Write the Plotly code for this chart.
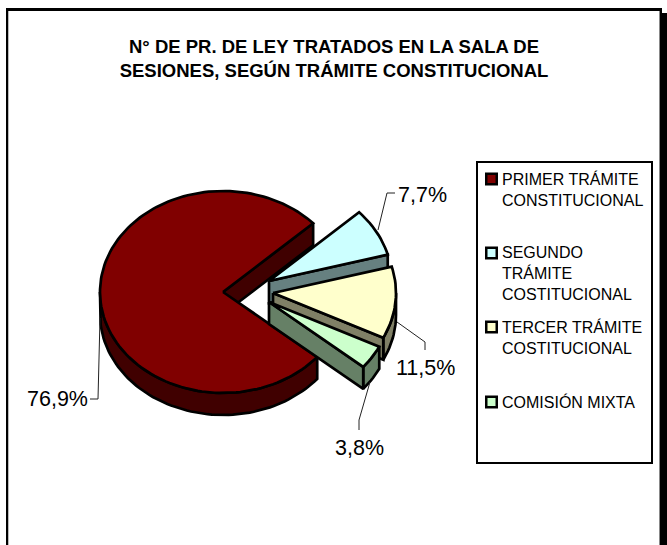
import numpy as np
import plotly.graph_objects as go

# ---- data ----
categories = ["PRIMER TRÁMITE<br>CONSTITUCIONAL",
              "SEGUNDO<br>TRÁMITE<br>COSTITUCIONAL",
              "TERCER TRÁMITE<br>COSTITUCIONAL",
              "COMISIÓN MIXTA"]
values = [76.9, 7.7, 11.5, 3.8]
title_text = "N° DE PR. DE LEY TRATADOS EN LA SALA DE<br>SESIONES, SEGÚN TRÁMITE CONSTITUCIONAL"

# ---- style and layout ----
W, H = 667, 545
face_colors = ["#800000", "#CCFFFF", "#FFFFCC", "#CCFFCC"]
wall_colors = ["#400000", "#668080", "#808066", "#668066"]
explode = [(0, 0), (46, -11), (50, 1), (46, 10)]
CX, CY, RX, RY, DEPTH = 223, 292, 123, 101, 22
START_ANGLE = -40.0   # math degrees, slices run clockwise
INK = "#000000"
FONT = "Liberation Sans"

fig = go.Figure()


def pt(a, off, drop=0):
    r = np.radians(a)
    return CX + off[0] + RX * np.cos(r), CY + off[1] - RY * np.sin(r) + drop


def arc(a0, a1, off, drop=0):
    n = max(2, int(abs(a1 - a0) / 2) + 2)
    ang = np.linspace(a0, a1, n)
    return [pt(a, off, drop) for a in ang]


def poly(points, color, name):
    xs = [p[0] for p in points] + [points[0][0]]
    ys = [p[1] for p in points] + [points[0][1]]
    fig.add_trace(go.Scatter(x=xs, y=ys, mode="lines", fill="toself", fillcolor=color,
                             line=dict(color=INK, width=2.7), name=name.replace("<br>", " "),
                             showlegend=False, hoverinfo="name"))


# angular spans from the values
total = sum(values)
spans = []
a = START_ANGLE
for v in values:
    b = a - v / total * 360
    spans.append((a, b))
    a = b

# draw slices back to front: big slice first, then the pulled ones from the top down
for i, (a0, a1) in enumerate(spans):
    off = explode[i]
    name = categories[i]
    if i == 0:
        # visible outer wall: lower half only
        top = arc(a0, -180, off)
        bot = arc(-180, a0, off, DEPTH)
        poly(top + bot, wall_colors[i], name)
        # cut wall at the far end of the slice
        end = a1 + 360
        c = (CX + off[0], CY + off[1])
        p = pt(end, off)
        poly([c, p, (p[0], p[1] + DEPTH), (c[0], c[1] + DEPTH)], wall_colors[i], name)
        poly([c] + arc(a0, a1, off), face_colors[i], name)
    else:
        s, e = a0 + 360, a1 + 360
        # outer wall where the rim faces the viewer
        if e < 0:
            rs = min(s, 0)
            top = arc(rs, e, off)
            bot = arc(e, rs, off, DEPTH)
            poly(top + bot, wall_colors[i], name)
        # cut wall along the clockwise edge
        c = (CX + off[0], CY + off[1])
        p = pt(e, off)
        poly([c, p, (p[0], p[1] + DEPTH), (c[0], c[1] + DEPTH)], wall_colors[i], name)
        poly([c] + arc(s, e, off), face_colors[i], name)

# leader lines
leaders = [
    [(100, 318), (98, 399), (90, 399)],
    [(378, 230), (387, 193), (395, 193)],
    [(397, 322), (425, 342), (425, 350)],
    [(370, 382), (359, 420), (359, 430)],
]
for pts in leaders:
    fig.add_trace(go.Scatter(x=[p[0] for p in pts], y=[p[1] for p in pts], mode="lines",
                             line=dict(color="#222222", width=1), showlegend=False, hoverinfo="skip"))

# percent labels
label_pos = [(57, 399), (422, 194.5), (425, 368), (359, 448)]
annotations = []
for v, (x, y) in zip(values, label_pos):
    annotations.append(dict(x=x, y=y, xref="x", yref="y", showarrow=False,
                            text=f"{v:.1f}".replace(".", ",") + "%",
                            font=dict(family=FONT, size=21.5, color="#000000"),
                            xanchor="center", yanchor="middle"))

# legend, kept as real text with evenly spaced keys
legend_y = [179, 253, 327, 402]
LEGEND_X = 491.5
fig.add_trace(go.Scatter(x=[LEGEND_X] * 4, y=legend_y, mode="markers",
                         marker=dict(symbol="square", size=10.5, color=face_colors,
                                     line=dict(color=INK, width=2.5)),
                         showlegend=False, hoverinfo="skip"))
for name, y in zip(categories, legend_y):
    annotations.append(dict(x=502, y=y - 10, xref="x", yref="y", showarrow=False, text=name,
                            align="left", xanchor="left", yanchor="top",
                            font=dict(family=FONT, size=16, color="#000000"),
                            borderpad=0, xshift=-1))

shapes = [
    dict(type="rect", x0=477, x1=652, y0=162, y1=463, line=dict(color=INK, width=2), fillcolor="rgba(0,0,0,0)", layer="below"),
    # page frame with its drop shadow on the right
    dict(type="rect", x0=6, x1=8, y0=8, y1=H, fillcolor=INK, line_width=0),
    dict(type="rect", x0=8, x1=9, y0=11, y1=H, fillcolor="#BBBBBB", line_width=0),
    dict(type="rect", x0=6, x1=662, y0=8, y1=11, fillcolor=INK, line_width=0),
    dict(type="rect", x0=659, x1=660, y0=11, y1=H, fillcolor="#888888", line_width=0),
    dict(type="rect", x0=660, x1=662, y0=11, y1=H, fillcolor=INK, line_width=0),
    dict(type="rect", x0=662, x1=667, y0=13, y1=H, fillcolor=INK, line_width=0),
]

fig.update_layout(
    width=W, height=H, autosize=False,
    margin=dict(l=0, r=0, t=0, b=0),
    paper_bgcolor="white", plot_bgcolor="white",
    showlegend=False,
    title=dict(text=title_text, x=334 / W, xanchor="center", y=1 - 52.5 / H, yanchor="middle",
               font=dict(family=FONT, size=18.5, color="#000000", weight="bold")),
    xaxis=dict(range=[0, W], visible=False, fixedrange=True),
    yaxis=dict(range=[H, 0], visible=False, fixedrange=True),
    annotations=annotations,
    shapes=shapes,
)

fig.write_html("out.html", config={"displayModeBar": False},
               post_script="document.body.style.margin='0';document.body.style.overflow='hidden';")
